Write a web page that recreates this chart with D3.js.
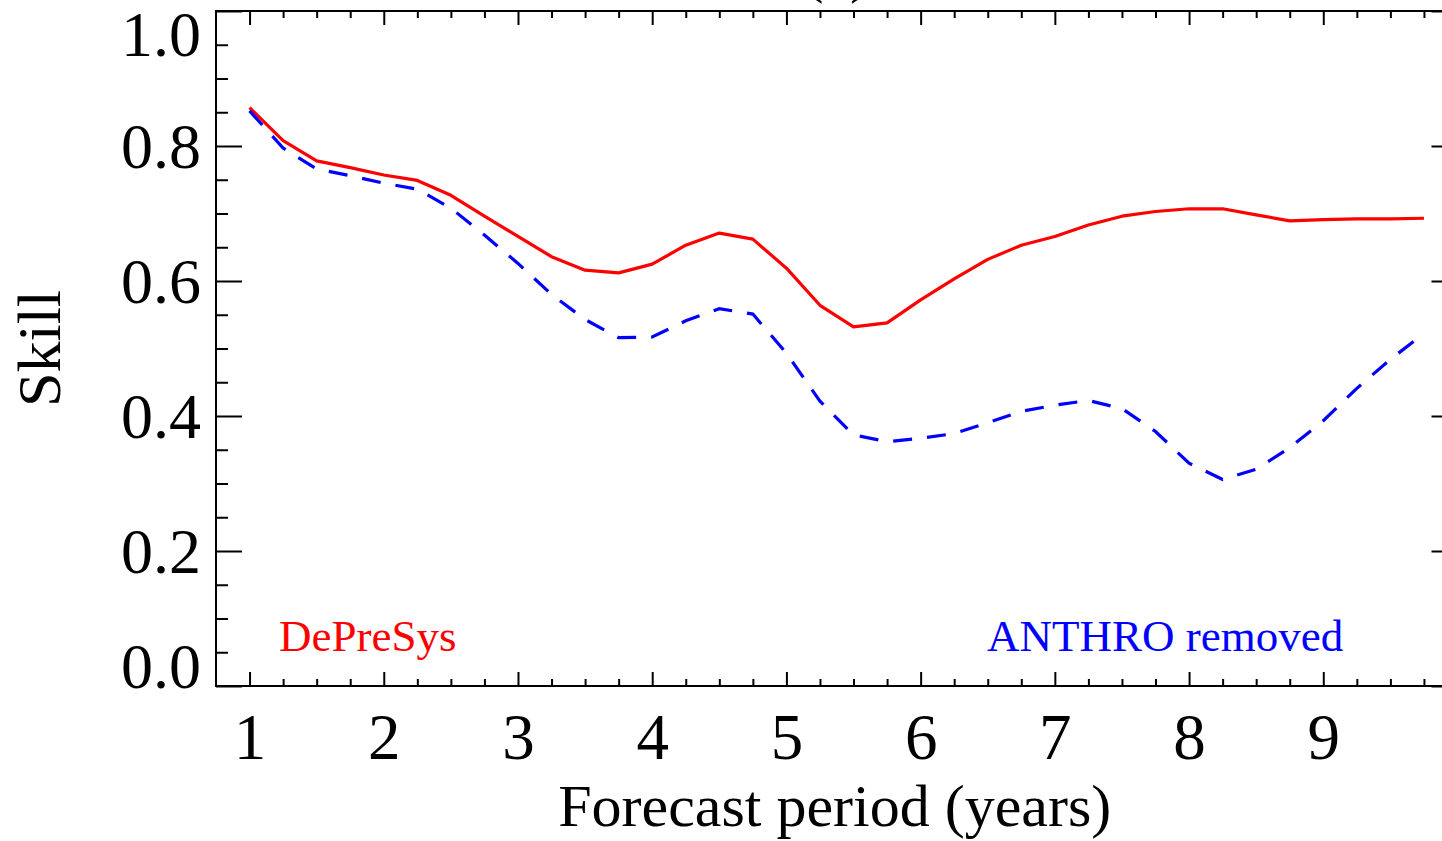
<!DOCTYPE html>
<html>
<head>
<meta charset="utf-8">
<script src="https://cdn.jsdelivr.net/npm/d3@7"></script>
<style>
  html, body { margin: 0; padding: 0; background: #fff; overflow: hidden; }
  svg { display: block; font-family: "Liberation Serif", "Times New Roman", serif; }
</style>
</head>
<body>
<svg id="chart" width="1442" height="841"></svg>
<script>
// ---- data ----
const years = [1, 1.25, 1.5, 1.75, 2, 2.25, 2.5, 2.75, 3, 3.25, 3.5, 3.75,
               4, 4.25, 4.5, 4.75, 5, 5.25, 5.5, 5.75, 6, 6.25,
               6.5, 6.75, 7, 7.25, 7.5, 7.75, 8, 8.25, 8.5, 8.75, 9, 9.25, 9.5, 9.75];
const depresys = [0.857, 0.808, 0.778, 0.768, 0.757, 0.749, 0.727, 0.696, 0.666, 0.636, 0.616, 0.612,
                  0.625, 0.653, 0.671, 0.662, 0.619, 0.564, 0.532, 0.538, 0.572, 0.603,
                  0.632, 0.653, 0.666, 0.683, 0.696, 0.703, 0.707, 0.707, 0.698, 0.689, 0.691, 0.692, 0.692, 0.693];
const anthroRemoved = [0.852, 0.797, 0.766, 0.756, 0.745, 0.736, 0.708, 0.668, 0.626, 0.580, 0.543, 0.516,
                       0.517, 0.541, 0.559, 0.551, 0.493, 0.422, 0.372, 0.362, 0.367, 0.374,
                       0.390, 0.407, 0.416, 0.423, 0.411, 0.377, 0.330, 0.306, 0.321, 0.353, 0.393, 0.441, 0.484, 0.522];
const seriesNames = ["DePreSys", "ANTHRO removed"];
const seriesColors = ["#ff0000", "#0000ff"];

const xMajorTicks = [1, 2, 3, 4, 5, 6, 7, 8, 9];
const xTickLabels = ["1", "2", "3", "4", "5", "6", "7", "8", "9"];
const xMinorTicks = [1.25, 1.5, 1.75, 2.25, 2.5, 2.75, 3.25, 3.5, 3.75, 4.25, 4.5, 4.75,
                     5.25, 5.5, 5.75, 6.25, 6.5, 6.75, 7.25, 7.5, 7.75, 8.25, 8.5, 8.75,
                     9.25, 9.5, 9.75];
const yMajorTicks = [0, 0.2, 0.4, 0.6, 0.8, 1.0];
const yTickLabels = ["0.0", "0.2", "0.4", "0.6", "0.8", "1.0"];
const yMinorTicks = [0.05, 0.1, 0.15, 0.25, 0.3, 0.35, 0.45, 0.5, 0.55, 0.65, 0.7, 0.75, 0.85, 0.9, 0.95];

const xDomain = [0.75, 10];
const yDomain = [0, 1];
const titleText = "(a)";
const xTitle = "Forecast period (years)";
const yTitle = "Skill";

// ---- layout ----
const L = 216, R = 1457.5, T = 11, B = 686;
const svg = d3.select("#chart");
const x = d3.scaleLinear().domain(xDomain).range([L, R]);
const y = d3.scaleLinear().domain(yDomain).range([B, T]);

const axisColor = "#000";
function styleAxis(g) {
  g.select(".domain").remove();
  g.selectAll(".tick line").attr("stroke", axisColor).attr("stroke-width", 2);
}

// bottom axis
const gB = svg.append("g").attr("transform", `translate(0,${B})`)
  .call(d3.axisBottom(x).tickValues(xMajorTicks).tickSize(-14)
        .tickFormat((d, i) => xTickLabels[i]));
styleAxis(gB);
gB.selectAll(".tick text").attr("y", 73).attr("dy", null)
  .attr("font-size", 65).attr("fill", "#000").attr("font-family", "Liberation Serif");
const gBm = svg.append("g").attr("transform", `translate(0,${B})`)
  .call(d3.axisBottom(x).tickValues(xMinorTicks).tickSize(-7).tickFormat(""));
styleAxis(gBm);

// top axis
const gT = svg.append("g").attr("transform", `translate(0,${T})`)
  .call(d3.axisTop(x).tickValues(xMajorTicks).tickSize(-14).tickFormat(""));
styleAxis(gT);
const gTm = svg.append("g").attr("transform", `translate(0,${T})`)
  .call(d3.axisTop(x).tickValues(xMinorTicks).tickSize(-7).tickFormat(""));
styleAxis(gTm);

// left axis
const gL = svg.append("g").attr("transform", `translate(${L},0)`)
  .call(d3.axisLeft(y).tickValues(yMajorTicks).tickSize(-26)
        .tickFormat((d, i) => yTickLabels[i]));
styleAxis(gL);
gL.selectAll(".tick text")
  .attr("x", -15).attr("font-size", 64).attr("fill", "#000")
  .attr("font-family", "Liberation Serif").attr("text-anchor", "end")
  .attr("dy", d => d === 1 ? "0.69em" : (d === 0 ? "0.02em" : "0.33em"));
const gLm = svg.append("g").attr("transform", `translate(${L},0)`)
  .call(d3.axisLeft(y).tickValues(yMinorTicks).tickSize(-12).tickFormat(""));
styleAxis(gLm);

// right axis
const gR = svg.append("g").attr("transform", `translate(${R},0)`)
  .call(d3.axisRight(y).tickValues(yMajorTicks).tickSize(-26).tickFormat(""));
styleAxis(gR);
const gRm = svg.append("g").attr("transform", `translate(${R},0)`)
  .call(d3.axisRight(y).tickValues(yMinorTicks).tickSize(-12).tickFormat(""));
styleAxis(gRm);

// frame
svg.append("rect").attr("x", L).attr("y", T).attr("width", R - L).attr("height", B - T)
  .attr("fill", "none").attr("stroke", axisColor).attr("stroke-width", 2);

// lines
const line = d3.line().x((d, i) => x(years[i])).y(d => y(d));
svg.append("path").datum(depresys).attr("d", line)
  .attr("fill", "none").attr("stroke", seriesColors[0]).attr("stroke-width", 3.2)
  .attr("stroke-linejoin", "round");
svg.append("path").datum(anthroRemoved).attr("d", line)
  .attr("fill", "none").attr("stroke", seriesColors[1]).attr("stroke-width", 3.2)
  .attr("stroke-dasharray", "19,15");

// series labels
svg.append("text").attr("x", 279).attr("y", 651).attr("font-size", 45)
  .attr("fill", seriesColors[0]).text(seriesNames[0]);
svg.append("text").attr("x", 987).attr("y", 651).attr("font-size", 45)
  .attr("fill", seriesColors[1]).text(seriesNames[1]);

// axis titles
svg.append("text").attr("x", (L + R) / 2 - 2).attr("y", 826).attr("font-size", 60)
  .attr("text-anchor", "middle").attr("fill", "#000").text(xTitle);
svg.append("text").attr("transform", `translate(60,${(T + B) / 2}) rotate(-90)`)
  .attr("font-size", 62).attr("text-anchor", "middle").attr("fill", "#000").text(yTitle);

// title (cut off at top, as in the reference)
svg.append("text").attr("x", (L + R) / 2).attr("y", -9).attr("font-size", 60)
  .attr("text-anchor", "middle").attr("fill", "#000").text(titleText);
</script>
</body>
</html>
